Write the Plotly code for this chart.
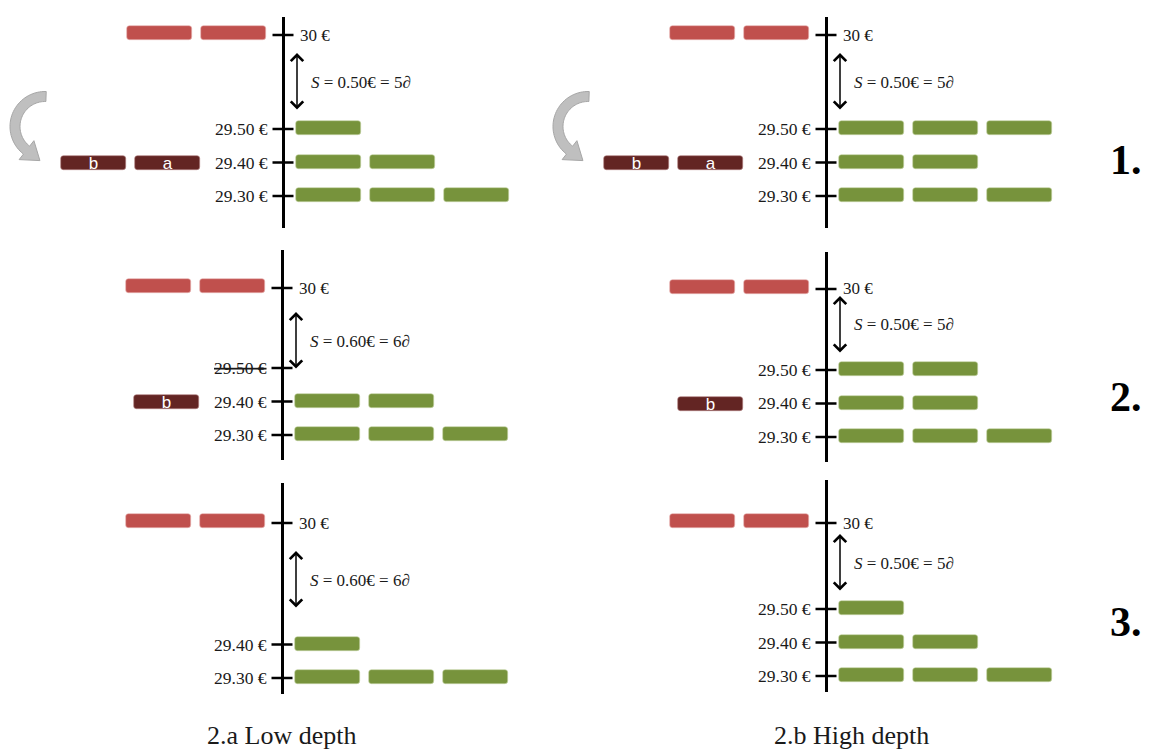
import numpy as np
import plotly.graph_objects as go

# ---------------- data ----------------
ask_price = 30.00
bid_prices = [29.50, 29.40, 29.30]
ask_orders = [2, 2, 2]                      # rows 1..3 (same in both columns)
low_depth_bids = [[1, 2, 3], [0, 2, 3], [0, 1, 3]]
high_depth_bids = [[3, 2, 3], [2, 2, 3], [1, 2, 3]]
market_order_price = 29.40
market_orders = [["b", "a"], ["b"], []]     # listed from far to near the book
low_depth_spread = [0.50, 0.60, 0.60]
high_depth_spread = [0.50, 0.50, 0.50]
tick_size = 0.10
low_depth_levels = [[30.00, 29.50, 29.40, 29.30],
                    [30.00, 29.50, 29.40, 29.30],
                    [30.00, 29.40, 29.30]]
high_depth_levels = [[30.00, 29.50, 29.40, 29.30],
                     [30.00, 29.50, 29.40, 29.30],
                     [30.00, 29.50, 29.40, 29.30]]
low_depth_struck = [[], [29.50], []]
high_depth_struck = [[], [], []]
reroute_arrow_rows = [True, False, False]
row_labels = ["1.", "2.", "3."]
column_titles = ["2.a Low depth", "2.b High depth"]

# ---------------- layout / style ----------------
W, H = 1151, 751
S_PX = 335.0          # pixels per euro on the price axes
X_PX = 74.0           # pixels per order slot
BAR_LEN = 65 / X_PX
GREEN_OFF = 13 / X_PX
RED_OFF = 17 / X_PX
MKT_OFF = 83 / X_PX
BAR_H = 14 / S_PX
REF_LEVEL = 29.50

RED = "#C0504D"
GREEN = "#77933C"
DARK = "#632523"
GREY = "#BFBFBF"
SERIF = "Liberation Serif"

# pixel geometry of each panel (row, col)
panels = [
    dict(row=0, col=0, ax=283, top=17, bot=228, yref=129, gap=94, arrow_c=82, x0=0, x1=545),
    dict(row=0, col=1, ax=826, top=17, bot=228, yref=129, gap=94, arrow_c=82, x0=540, x1=1100),
    dict(row=1, col=0, ax=282, top=250, bot=460, yref=368, gap=80, arrow_c=341, x0=0, x1=545),
    dict(row=1, col=1, ax=826, top=252, bot=462, yref=370, gap=81, arrow_c=325, x0=540, x1=1100),
    dict(row=2, col=0, ax=282, top=483, bot=694, yref=611, gap=88, arrow_c=580, x0=0, x1=545),
    dict(row=2, col=1, ax=826, top=480, bot=692, yref=609, gap=86, arrow_c=563, x0=540, x1=1100),
]

fig = go.Figure()
shapes, annotations = [], []
layout_axes = {}


def price_label(p):
    return "30 €" if abs(p - round(p)) < 1e-9 else f"{p:.2f} €"


def curved_arrow_path(cx, cy):
    ro, ri = 35.0, 25.0
    a0, a1 = np.radians(88), np.radians(232)
    t = np.linspace(a0, a1, 40)
    pts = [(cx + ro * np.cos(a), cy - ro * np.sin(a)) for a in t]
    rm = (ro + ri) / 2
    tan = np.array([-np.sin(a1), -np.cos(a1)])
    base_out = (cx + (ro + 7) * np.cos(a1), cy - (ro + 7) * np.sin(a1))
    base_in = (cx + (ri - 7) * np.cos(a1), cy - (ri - 7) * np.sin(a1))
    mid = np.array([cx + rm * np.cos(a1), cy - rm * np.sin(a1)])
    tip = tuple(mid + 17 * tan)
    pts += [base_out, tip, base_in]
    pts += [(cx + ri * np.cos(a), cy - ri * np.sin(a)) for a in t[::-1]]
    s = "M " + " L ".join(f"{x / W:.5f},{1 - y / H:.5f}" for x, y in pts) + " Z"
    return s


for i, P in enumerate(panels):
    n = i + 1
    xa = "x" if n == 1 else f"x{n}"
    ya = "y" if n == 1 else f"y{n}"
    r, c = P["row"], P["col"]
    bids = low_depth_bids[r] if c == 0 else high_depth_bids[r]
    levels = low_depth_levels[r] if c == 0 else high_depth_levels[r]
    struck = low_depth_struck[r] if c == 0 else high_depth_struck[r]
    spread = low_depth_spread[r] if c == 0 else high_depth_spread[r]

    def disp(p, P=P):
        return p if p <= REF_LEVEL + 1e-9 else REF_LEVEL + P["gap"] / S_PX

    def ypix(py, P=P):
        return REF_LEVEL + (P["yref"] - py) / S_PX

    # axes
    layout_axes["xaxis" if n == 1 else f"xaxis{n}"] = dict(
        domain=[P["x0"] / W, P["x1"] / W],
        range=[(P["x0"] - P["ax"]) / X_PX, (P["x1"] - P["ax"]) / X_PX],
        anchor=ya, showgrid=False, showticklabels=False, ticks="", showline=False,
        zeroline=True, zerolinecolor="black", zerolinewidth=3, fixedrange=True,
    )
    layout_axes["yaxis" if n == 1 else f"yaxis{n}"] = dict(
        domain=[1 - P["bot"] / H, 1 - P["top"] / H],
        range=[ypix(P["bot"]), ypix(P["top"])],
        anchor=xa, visible=False, fixedrange=True,
    )

    # ask (sell) limit orders
    ya_vals, base_vals = [], []
    for k in range(ask_orders[r]):
        ya_vals.append(disp(ask_price) + 2.5 / S_PX)
        base_vals.append(-(RED_OFF + k) - BAR_LEN)
    fig.add_trace(go.Bar(orientation="h", y=ya_vals, x=[BAR_LEN] * len(ya_vals), base=base_vals,
                         width=BAR_H, marker=dict(color=RED, cornerradius=3,
                                                  line=dict(width=0.6, color="#E8B5B3")),
                         xaxis=xa, yaxis=ya, showlegend=False, hoverinfo="skip"))

    # bid (buy) limit orders
    yb, bb = [], []
    for p, cnt in zip(bid_prices, bids):
        for k in range(cnt):
            yb.append(disp(p) + 1 / S_PX)
            bb.append(GREEN_OFF + k)
    fig.add_trace(go.Bar(orientation="h", y=yb, x=[BAR_LEN] * len(yb), base=bb,
                         width=BAR_H, marker=dict(color=GREEN, cornerradius=3,
                                                  line=dict(width=0.6, color="#C4D4A4")),
                         xaxis=xa, yaxis=ya, showlegend=False, hoverinfo="skip"))

    # incoming market sell orders
    mo = market_orders[r]
    if mo:
        ym, bm, tm, xm = [], [], [], []
        for k, lab in enumerate(reversed(mo)):
            ym.append(market_order_price)
            bm.append(-(MKT_OFF + k) - BAR_LEN)
            xm.append(-(MKT_OFF + k) - BAR_LEN / 2)
            tm.append(lab)
        fig.add_trace(go.Bar(orientation="h", y=ym, x=[BAR_LEN] * len(ym), base=bm,
                             width=BAR_H,
                             marker=dict(color=DARK, cornerradius=3,
                                         line=dict(width=0.6, color="#B08080")),
                             xaxis=xa, yaxis=ya, showlegend=False, hoverinfo="skip"))
        fig.add_trace(go.Scatter(x=xm, y=[v - 2 / S_PX for v in ym], mode="text", text=tm,
                                 textfont=dict(color="white", size=17, family="Liberation Sans"),
                                 xaxis=xa, yaxis=ya, showlegend=False, hoverinfo="skip"))

    # tick marks
    fig.add_trace(go.Scatter(x=[0] * len(levels), y=[disp(p) for p in levels], mode="markers",
                             marker=dict(symbol="line-ew", size=15, line=dict(width=2.5, color="black")),
                             xaxis=xa, yaxis=ya, showlegend=False, hoverinfo="skip"))

    # tick labels
    for p in levels:
        txt = price_label(p)
        if p in struck:
            txt = f"<s>{txt}</s>"
        if p > REF_LEVEL + 1e-9:
            annotations.append(dict(x=0, y=disp(p), xref=xa, yref=ya, text=txt, showarrow=False,
                                    xanchor="left", xshift=15,
                                    font=dict(family=SERIF, size=17, color="#1a1a1a")))
        else:
            annotations.append(dict(x=0, y=disp(p), xref=xa, yref=ya, text=txt, showarrow=False,
                                    xanchor="right", xshift=-13,
                                    font=dict(family=SERIF, size=17.5, color="#1a1a1a")))

    # spread arrow and label
    ax_x = 14 / X_PX
    annotations.append(dict(x=ax_x, y=ypix(P["arrow_c"] - 29), ax=ax_x, ay=ypix(P["arrow_c"] + 29),
                            xref=xa, yref=ya, axref=xa, ayref=ya, text="", showarrow=True,
                            arrowside="end+start", arrowhead=4, startarrowhead=4,
                            arrowwidth=1.5, arrowsize=1.6, startarrowsize=1.6,
                            arrowcolor="black", standoff=0, startstandoff=0))
    ticks_n = int(round(spread / tick_size))
    annotations.append(dict(x=26 / X_PX, y=ypix(P["arrow_c"]), xref=xa, yref=ya,
                            text=f"<i>S</i> = {spread:.2f}€ = {ticks_n}<i>∂</i>",
                            showarrow=False, xanchor="left",
                            font=dict(family=SERIF, size=17, color="#1a1a1a")))

    # curved arrow: market order hitting the book
    if reroute_arrow_rows[r]:
        y294 = P["yref"] + (REF_LEVEL - market_order_price) * S_PX
        shapes.append(dict(type="path", xref="paper", yref="paper",
                           path=curved_arrow_path(P["ax"] - 238, y294 - 36),
                           fillcolor=GREY, line=dict(color="#A6A6A6", width=1)))

# row labels
row_y = [160, 397, 622]
for lab, yy in zip(row_labels, row_y):
    annotations.append(dict(x=1126 / W, y=1 - yy / H, xref="paper", yref="paper", text=f"<b>{lab}</b>",
                            xanchor="center", yanchor="middle",
                            showarrow=False, font=dict(family=SERIF, size=42, color="black")))

# column titles
for lab, xx in zip(column_titles, [281, 851]):
    annotations.append(dict(x=xx / W, y=1 - 735 / H, xref="paper", yref="paper", text=lab,
                            xanchor="center", yanchor="middle",
                            showarrow=False, font=dict(family=SERIF, size=26, color="#1a1a1a")))

fig.update_layout(
    width=W, height=H, margin=dict(l=0, r=0, t=0, b=0),
    paper_bgcolor="white", plot_bgcolor="white",
    barmode="overlay", bargap=0, showlegend=False, hovermode=False,
    font=dict(family=SERIF),
    shapes=shapes, annotations=annotations,
    **layout_axes,
)

fig.write_html("out.html", config={"displayModeBar": False},
               post_script="document.body.style.margin='0px';")
